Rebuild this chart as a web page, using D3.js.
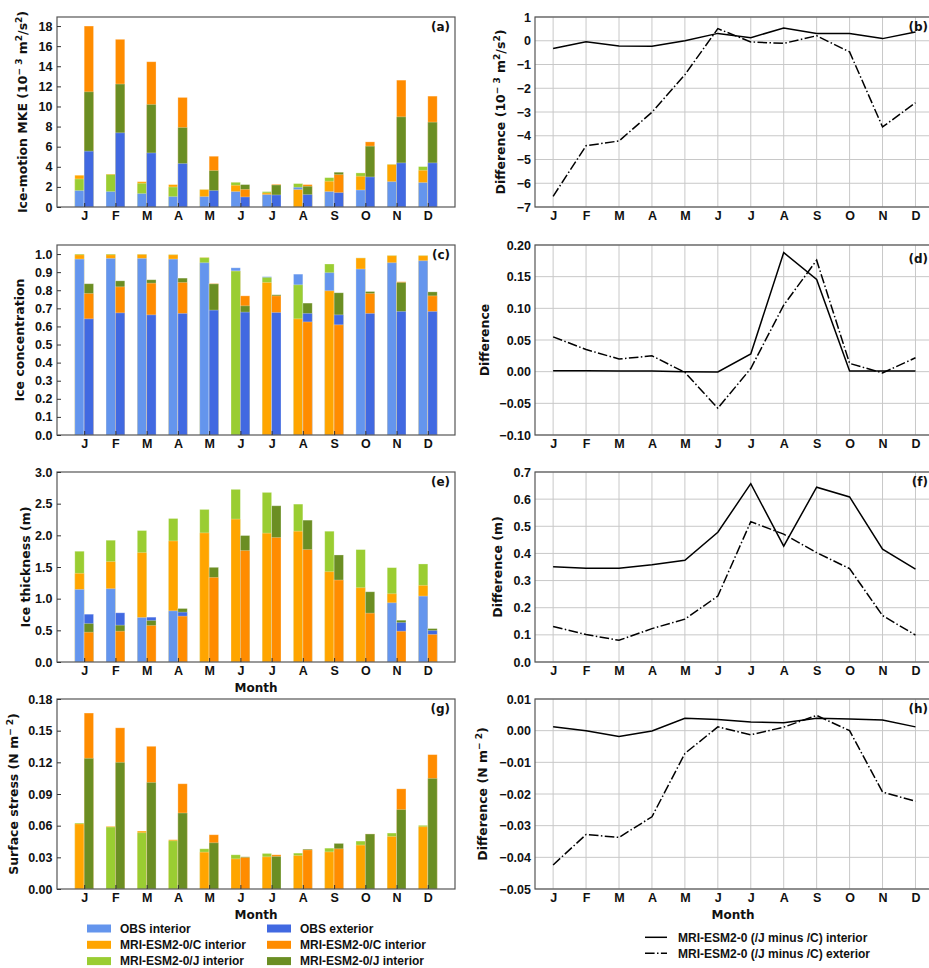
<!DOCTYPE html>
<html><head><meta charset="utf-8">
<script src="https://cdn.jsdelivr.net/npm/d3@7"></script>
<style>
html,body{margin:0;padding:0;background:#fff;}
svg{display:block;}
.tick text{font-family:"Liberation Sans",Arial,sans-serif;font-weight:bold;font-size:12.5px;fill:#111;}
</style>
</head><body>
<svg id="chart" width="929" height="968"></svg>
<script>
// ---------------- DATA ----------------
const months = ["J","F","M","A","M","J","J","A","S","O","N","D"];

// (a) Ice-motion MKE (10^-3 m2/s2)
const mkeObsInt = [1.63,1.53,1.33,1.03,1.03,1.53,1.23,1.96,1.53,1.69,2.52,2.43];
const mkeObsExt = [5.55,7.38,5.38,4.32,1.63,1.00,1.20,1.23,1.43,2.99,4.39,4.39];
const mkeCInt   = [3.16,3.28,2.52,2.23,1.73,2.16,1.40,1.73,2.56,3.06,4.22,3.65];
const mkeCExt   = [18.0,16.68,14.45,10.9,5.05,1.75,2.26,2.23,3.22,6.48,12.62,11.03];
const mkeJInt   = [2.79,3.22,2.36,1.99,1.735,2.46,1.53,2.33,2.92,3.39,4.25,4.02];
const mkeJExt   = [11.46,12.23,10.2,7.91,3.62,2.23,2.19,2.06,3.46,6.05,8.97,8.44];

// (c) Ice concentration
const concObsInt = [0.972,0.976,0.976,0.972,0.952,0.924,0.875,0.889,0.897,0.917,0.952,0.963];
const concObsExt = [0.642,0.675,0.664,0.672,0.690,0.679,0.677,0.672,0.664,0.672,0.683,0.683];
const concCInt   = [0.996,0.996,0.998,0.996,0.981,0.9065,0.843,0.642,0.797,0.978,0.991,0.991];
const concCExt   = [0.782,0.819,0.839,0.843,0.837,0.769,0.769,0.625,0.609,0.782,0.847,0.769];
const concJInt   = [1.000,1.000,0.999,0.997,0.980,0.906,0.871,0.830,0.945,0.979,0.992,0.992];
const concJExt   = [0.836,0.852,0.858,0.867,0.835,0.714,0.775,0.729,0.786,0.793,0.843,0.791];

// (e) Ice thickness (m)
const thkObsInt = [1.146,1.157,0.703,0.808,null,null,null,null,null,null,0.935,1.040];
const thkObsExt = [0.755,0.777,0.708,0.787,null,null,null,null,null,null,0.623,0.497];
const thkCInt   = [1.400,1.585,1.727,1.912,2.039,2.256,2.034,2.065,1.426,1.173,1.078,1.210];
const thkCExt   = [0.470,0.486,0.576,0.724,1.336,1.759,1.965,1.775,1.294,0.771,0.486,0.435];
const thkJInt   = [1.749,1.923,2.076,2.266,2.409,2.726,2.678,2.493,2.065,1.775,1.490,1.548];
const thkJExt   = [0.607,0.581,0.655,0.845,1.495,1.997,2.467,2.240,1.690,1.109,0.660,0.528];

// (g) Surface stress (N m-2)
const strObsInt = [null,null,null,null,null,null,null,null,null,null,null,null];
const strObsExt = [null,null,null,null,null,null,null,null,null,null,null,null];
const strCInt   = [0.0617,0.0594,0.0549,0.0467,0.0349,0.0286,0.0305,0.0317,0.0352,0.0416,0.0498,0.0590];
const strCExt   = [0.1667,0.1527,0.1352,0.0997,0.0514,0.0298,0.0324,0.0371,0.0381,0.0522,0.0949,0.1273];
const strJInt   = [0.0625,0.0587,0.0533,0.0457,0.0381,0.0324,0.0337,0.0340,0.0387,0.0454,0.0530,0.0603];
const strJExt   = [0.1238,0.1200,0.1010,0.0720,0.0438,0.0305,0.0308,0.0378,0.0432,0.0521,0.0752,0.1048];

// Differences (/J minus /C)
const diffMkeInt = [-0.33,-0.04,-0.22,-0.23,0.00,0.31,0.13,0.54,0.31,0.31,0.09,0.37];
const diffMkeExt = [-6.55,-4.42,-4.22,-3.01,-1.43,0.51,-0.05,-0.11,0.21,-0.47,-3.63,-2.61];
const diffConcInt = [0.0016,0.0016,0.001,0.001,0.0,-0.0005,0.028,0.188,0.1455,0.001,0.001,0.001];
const diffConcExt = [0.055,0.035,0.020,0.025,-0.001,-0.0577,0.005,0.105,0.176,0.013,-0.002,0.022];
const diffThkInt = [0.351,0.345,0.345,0.358,0.375,0.478,0.657,0.427,0.644,0.608,0.416,0.342];
const diffThkExt = [0.131,0.101,0.080,0.123,0.158,0.243,0.517,0.471,0.403,0.344,0.171,0.099];
const diffStrInt = [0.0012,0.0,-0.0018,-0.0001,0.0039,0.0035,0.0027,0.0025,0.0039,0.0037,0.0034,0.0012];
const diffStrExt = [-0.0424,-0.0328,-0.0337,-0.0272,-0.0072,0.0012,-0.0013,0.0011,0.0048,0.0,-0.0194,-0.0223];

// Tick values
const ticksA = [0,2,4,6,8,10,12,14,16,18];
const ticksC = [0,0.1,0.2,0.3,0.4,0.5,0.6,0.7,0.8,0.9,1.0];
const ticksE = [0,0.5,1.0,1.5,2.0,2.5,3.0];
const ticksG = [0,0.03,0.06,0.09,0.12,0.15,0.18];
const ticksB = [-7,-6,-5,-4,-3,-2,-1,0,1];
const ticksD = [-0.10,-0.05,0,0.05,0.10,0.15,0.20];
const ticksF = [0,0.1,0.2,0.3,0.4,0.5,0.6,0.7];
const ticksH = [-0.05,-0.04,-0.03,-0.02,-0.01,0,0.01];

const seriesNames = ["OBS interior","OBS exterior","MRI-ESM2-0/C interior","MRI-ESM2-0/C interior","MRI-ESM2-0/J interior","MRI-ESM2-0/J interior"];
const seriesColors = ["#6495ED","#4169E1","#FFA500","#FF8C00","#9ACD32","#6B8E23"];
const lineNames = ["MRI-ESM2-0 (/J minus /C) interior","MRI-ESM2-0 (/J minus /C) exterior"];

// ---------------- DRAW ----------------
const svg = d3.select("#chart");
const tops = [17,245,472,699];
const PH = 190;
const LX = [57,455], RX = [535,933.6];
const LABEL_FONT = "'DejaVu Sans',Verdana,sans-serif";

const xL = d3.scaleLinear().domain([-0.87,11.87]).range(LX);
const xR = d3.scaleLinear().domain([-0.55,11.55]).range(RX);

function yLabel(g, x, yc, parts){
  const t = g.append("text").attr("transform",`translate(${x},${yc}) rotate(-90)`)
    .attr("text-anchor","middle").attr("font-family",LABEL_FONT).attr("font-weight","bold")
    .attr("font-size",12.5).attr("fill","#111");
  let shifted = false;
  parts.forEach(p=>{
    const ts = t.append("tspan").text(p.t);
    if(p.sup){ ts.attr("font-size",9).attr("dy", shifted?0:-5); shifted=true; }
    else { if(shifted){ ts.attr("dy",5); shifted=false; } }
  });
}

function barPanel(row, domain, ticks, fmt, obsI, obsE, cI, cE, jI, jE, label, labelParts, labelX, showMonth){
  const top = tops[row], bottom = top+PH;
  const y = d3.scaleLinear().domain(domain).range([bottom, top]);
  const g = svg.append("g");
  const bw = 0.3;
  const groups = [
    {off:-bw, vals:[obsI,cI,jI], cols:[seriesColors[0],seriesColors[2],seriesColors[4]]},
    {off:0,   vals:[obsE,cE,jE], cols:[seriesColors[1],seriesColors[3],seriesColors[5]]}
  ];
  months.forEach((m,i)=>{
    groups.forEach(gr=>{
      const items = gr.vals.map((arr,k)=>({v:arr[i],c:gr.cols[k]})).filter(d=>d.v!=null)
        .sort((a,b)=>b.v-a.v);
      items.forEach(d=>{
        g.append("rect").attr("x",xL(i+gr.off)).attr("width",xL(bw)-xL(0))
          .attr("y",y(d.v)).attr("height",y(0)-y(d.v)).attr("fill",d.c)
          .attr("stroke","#fff").attr("stroke-opacity",0.35).attr("stroke-width",0.8);
      });
    });
  });
  g.append("rect").attr("x",LX[0]).attr("y",top).attr("width",LX[1]-LX[0]).attr("height",PH)
    .attr("fill","none").attr("stroke","#555").attr("stroke-width",1.2);
  const ya = d3.axisLeft(y).tickValues(ticks).tickFormat(fmt).tickSize(-4).tickPadding(4.5);
  const ay = g.append("g").attr("transform",`translate(${LX[0]},0)`).call(ya);
  ay.select(".domain").remove();
  ay.selectAll(".tick line").attr("stroke","#333");
  const xa = d3.axisBottom(xL).tickValues(d3.range(12)).tickFormat(i=>months[i]).tickSize(-4).tickPadding(4);
  const ax = g.append("g").attr("transform",`translate(0,${bottom})`).call(xa);
  ax.select(".domain").remove();
  ax.selectAll(".tick line").attr("stroke","#333");
  ax.selectAll(".tick text").attr("dy","0.71em");
  g.append("text").attr("x",LX[1]-5).attr("y",top+14).attr("text-anchor","end")
    .attr("font-family",LABEL_FONT).attr("font-weight","bold").attr("font-size",12).attr("fill","#111").text(label);
  yLabel(g, labelX, (top+bottom)/2, labelParts);
  if(showMonth){
    g.append("text").attr("x",(LX[0]+LX[1])/2).attr("y",bottom+30).attr("text-anchor","middle")
      .attr("font-family",LABEL_FONT).attr("font-weight","bold").attr("font-size",12).attr("fill","#111").text("Month");
  }
}

function linePanel(row, domain, ticks, fmt, dI, dE, label, labelDy, labelParts, labelX, showMonth){
  const top = tops[row], bottom = top+PH;
  const y = d3.scaleLinear().domain(domain).range([bottom, top]);
  const g = svg.append("g");
  g.selectAll(".hg").data(ticks).enter().append("line")
    .attr("x1",RX[0]).attr("x2",RX[1]).attr("y1",d=>y(d)).attr("y2",d=>y(d))
    .attr("stroke","#c8c8c8").attr("stroke-width",1);
  g.selectAll(".vg").data(d3.range(12)).enter().append("line")
    .attr("x1",d=>xR(d)).attr("x2",d=>xR(d)).attr("y1",top).attr("y2",bottom)
    .attr("stroke","#c8c8c8").attr("stroke-width",1);
  const line = d3.line().x((d,i)=>xR(i)).y(d=>y(d));
  g.append("path").datum(dI).attr("d",line).attr("fill","none").attr("stroke","#000").attr("stroke-width",1.5);
  g.append("path").datum(dE).attr("d",line).attr("fill","none").attr("stroke","#000").attr("stroke-width",1.5)
    .attr("stroke-dasharray","9.6,2.4,1.5,2.4");
  g.append("rect").attr("x",RX[0]).attr("y",top).attr("width",RX[1]-RX[0]).attr("height",PH)
    .attr("fill","none").attr("stroke","#555").attr("stroke-width",1.2);
  const ya = d3.axisLeft(y).tickValues(ticks).tickFormat(fmt).tickSize(0).tickPadding(4);
  const ay = g.append("g").attr("transform",`translate(${RX[0]},0)`).call(ya);
  ay.select(".domain").remove();
  const xa = d3.axisBottom(xR).tickValues(d3.range(12)).tickFormat(i=>months[i]).tickSize(0).tickPadding(4);
  const ax = g.append("g").attr("transform",`translate(0,${bottom})`).call(xa);
  ax.select(".domain").remove();
  ax.selectAll(".tick text").attr("dy","0.71em").attr("y",4.5);
  g.append("text").attr("x",928).attr("y",top+labelDy).attr("text-anchor","end")
    .attr("font-family",LABEL_FONT).attr("font-weight","bold").attr("font-size",12).attr("fill","#111").text(label);
  yLabel(g, labelX, (top+bottom)/2, labelParts);
  if(showMonth){
    g.append("text").attr("x",733).attr("y",bottom+30).attr("text-anchor","middle")
      .attr("font-family",LABEL_FONT).attr("font-weight","bold").attr("font-size",12).attr("fill","#111").text("Month");
  }
}

const fInt = d3.format("d"), f1 = d3.format(".1f"), f2 = d3.format(".2f");
const mkeUnits = [{t:"(10"},{t:"− 3",sup:true},{t:" m"},{t:"2",sup:true},{t:"/s"},{t:"2",sup:true},{t:")"}];

barPanel(0,[0,18.9],ticksA,fInt,mkeObsInt,mkeObsExt,mkeCInt,mkeCExt,mkeJInt,mkeJExt,"(a)",
  [{t:"Ice-motion MKE "}].concat(mkeUnits),27,false);
barPanel(1,[0,1.05],ticksC,f1,concObsInt,concObsExt,concCInt,concCExt,concJInt,concJExt,"(c)",
  [{t:"Ice concentration"}],24,false);
barPanel(2,[0,3],ticksE,f1,thkObsInt,thkObsExt,thkCInt,thkCExt,thkJInt,thkJExt,"(e)",
  [{t:"Ice thickness (m)"}],30,true);
barPanel(3,[0,0.18],ticksG,f2,strObsInt,strObsExt,strCInt,strCExt,strJInt,strJExt,"(g)",
  [{t:"Surface stress (N m"},{t:"− 2",sup:true},{t:")"}],17.5,true);

linePanel(0,[-7,1],ticksB,fInt,diffMkeInt,diffMkeExt,"(b)",14,[{t:"Difference "}].concat(mkeUnits),505,false);
linePanel(1,[-0.1,0.2],ticksD,f2,diffConcInt,diffConcExt,"(d)",18,[{t:"Difference"}],489,false);
linePanel(2,[0,0.7],ticksF,f1,diffThkInt,diffThkExt,"(f)",14,[{t:"Difference (m)"}],502,false);
linePanel(3,[-0.05,0.01],ticksH,f2,diffStrInt,diffStrExt,"(h)",14,[{t:"Difference (N m"},{t:"− 2",sup:true},{t:")"}],487,true);

// legends
const leg = svg.append("g").attr("font-family","'Liberation Sans',Arial,sans-serif").attr("font-weight","bold").attr("font-size",12).attr("fill","#111");
seriesNames.forEach((n,i)=>{
  const col = i%2, rowi = Math.floor(i/2);
  const x0 = col===0 ? 87 : 267, yy = 924.5 + rowi*16.3;
  leg.append("rect").attr("x",x0).attr("y",yy).attr("width",24).attr("height",8).attr("fill",seriesColors[i]);
  leg.append("text").attr("x",x0+33).attr("y",yy+8.3).text(n);
});
lineNames.forEach((n,i)=>{
  const yy = 937.3 + i*16;
  leg.append("line").attr("x1",645).attr("x2",667).attr("y1",yy).attr("y2",yy).attr("stroke","#000").attr("stroke-width",1.5)
    .attr("stroke-dasharray", i===1 ? "9.6,2.4,1.5,2.4" : null);
  leg.append("text").attr("x",678).attr("y",yy+4.2).text(n);
});
</script>
</body></html>
